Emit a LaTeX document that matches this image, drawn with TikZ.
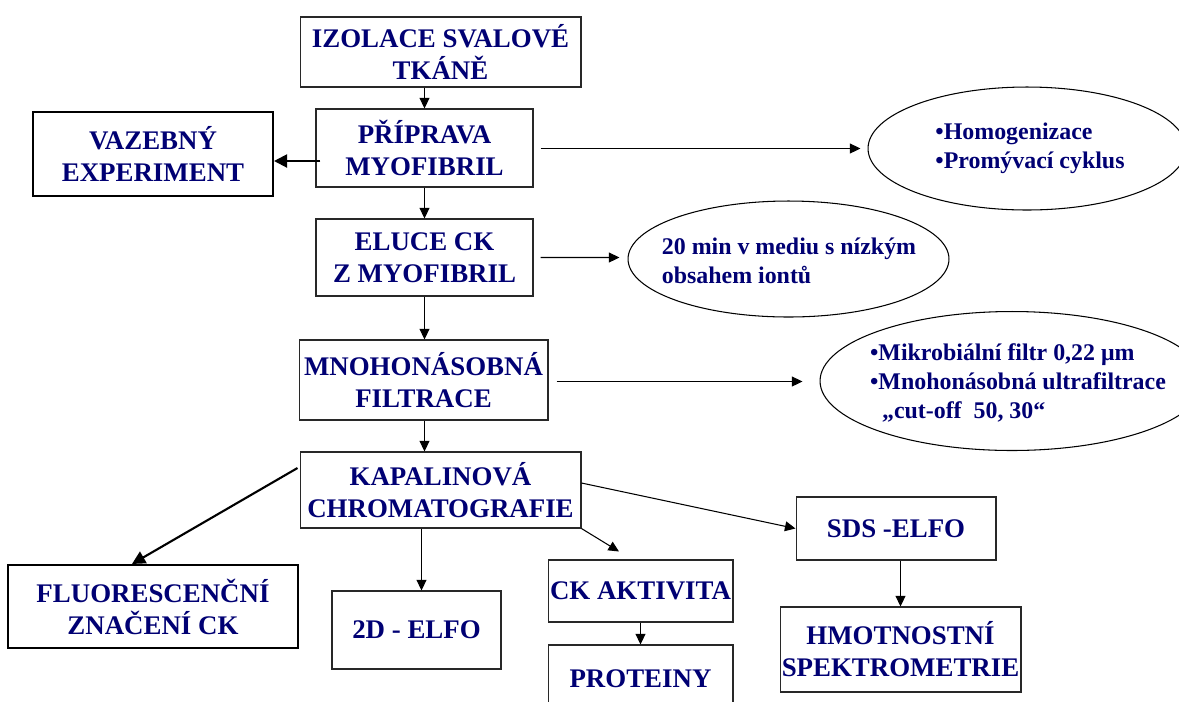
\documentclass[tikz,border=0pt]{standalone}
\usepackage{fontspec}
\setmainfont{Liberation Serif}
\usetikzlibrary{arrows.meta,positioning,calc,shapes.geometric}
\definecolor{fwnavy}{RGB}{0,0,115}
\definecolor{fwline}{RGB}{40,40,40}

\begin{document}
\begin{tikzpicture}[x=0.02cm,y=-0.02cm,
  stepbox/.style={draw=fwline,line width=0.6pt,text=fwnavy,align=center,inner sep=0pt,
    font=\fontsize{15.3}{18.2}\selectfont\bfseries},
  heavybox/.style={stepbox,draw=black,line width=1.2pt},
  noteshape/.style={ellipse,draw=black,line width=0.6pt,inner sep=0pt},
  notetext/.style={text=fwnavy,align=left,inner sep=0pt,
    font=\fontsize{13.6}{16.4}\selectfont\bfseries},
  arr/.style={-{Triangle[length=6pt,width=5.6pt]},line width=0.6pt},
  heavyarr/.style={-{Triangle[length=7.5pt,width=7.5pt]},line width=1.2pt}]
\clip (0,0) rectangle (1179,701);
% main column
\node[stepbox,minimum width=5.62cm,minimum height=1.4cm] (izol) at (440.5,52) {IZOLACE SVALOVÉ\\TKÁNĚ};
\node[stepbox,minimum width=4.34cm,minimum height=1.56cm] (prip) at (424.5,148) {PŘÍPRAVA\\MYOFIBRIL};
\node[heavybox,minimum width=4.8cm,minimum height=1.68cm] (vaz) at (153,154) {VAZEBNÝ\\EXPERIMENT};
\node[stepbox,minimum width=4.34cm,minimum height=1.54cm] (elu) at (424.5,257.5) {ELUCE CK\\Z MYOFIBRIL};
\node[stepbox,minimum width=4.98cm,minimum height=1.6cm] (mno) at (423.5,380) {MNOHONÁSOBNÁ\\FILTRACE};
\node[stepbox,minimum width=5.62cm,minimum height=1.52cm] (kap) at (440.5,490) {KAPALINOVÁ\\CHROMATOGRAFIE};
% outputs
\node[heavybox,minimum width=5.8cm,minimum height=1.66cm] (fluo) at (153,606.5) {FLUORESCENČNÍ\\ZNAČENÍ CK};
\node[stepbox,minimum width=3.38cm,minimum height=1.56cm] (elfo2d) at (416.5,630) {2D - ELFO};
\node[stepbox,minimum width=3.7cm,minimum height=1.24cm] (ckakt) at (640.5,591) {CK AKTIVITA};
\node[stepbox,minimum width=3.7cm,minimum height=1.34cm] (prot) at (640.5,678.5) {PROTEINY};
\node[stepbox,minimum width=4.0cm,minimum height=1.26cm] (sds) at (896,528.5) {SDS -ELFO};
\node[stepbox,minimum width=4.82cm,minimum height=1.7cm] (hmot) at (900.5,649.5) {HMOTNOSTNÍ\\SPEKTROMETRIE};
% notes
\node[noteshape,minimum width=6.36cm,minimum height=2.46cm] (homog) at (1027,148.5) {};
\node[notetext] (homogtext) at (1030,148) {•Homogenizace\\•Promývací cyklus};
\node[noteshape,minimum width=6.42cm,minimum height=2.32cm] (medium) at (788.5,259) {};
\node[notetext] (mediumtext) at (789,261) {20 min v mediu s nízkým\\obsahem iontů};
\node[noteshape,minimum width=7.68cm,minimum height=2.78cm] (filtr) at (1012,381) {};
\node[notetext] (filtrtext) at (1018,383) {•Mikrobiální filtr 0,22 μm\\•Mnohonásobná ultrafiltrace\\\ \ „cut-off\ \ 50, 30“};
% connectors
\draw[arr] (prip.north |- izol.south) -- (prip.north);
\draw[heavyarr] ($(prip.west)+(5,13)$) coordinate (vazstart) -- (vazstart -| vaz.east);
\draw[arr] ($(prip.east)+(7,0.5)$) -- ($(homog.west)+(-7,0)$);
\draw[arr] (prip) -- (elu);
\draw[arr] ($(elu.east)+(7,0)$) -- ($(medium.west)+(-8,-1.5)$);
\draw[arr] (elu.south) -- (elu.south |- mno.north);
\draw[arr] ($(mno.east)+(8,1.5)$) -- ($(filtr.west)+(-17,0.5)$);
\draw[arr] (elu.south |- mno.south) -- (elu.south |- kap.north);
\draw[heavyarr] ($(kap.west)+(-2,-22)$) -- ($(fluo.north)+(-21,0)$);
\draw[arr] ($(kap.south)+(-19,0)$) coordinate (dstart) -- (dstart |- elfo2d.north);
\draw[arr] (kap.south east) -- ($(ckakt.north)+(-21.5,-8)$);
\draw[arr] (ckakt) -- (prot);
\draw[arr] ($(kap.east)+(0,-7)$) -- (sds.west);
\draw[arr] (sds.south -| hmot.north) -- (hmot.north);
\end{tikzpicture}
\end{document}
